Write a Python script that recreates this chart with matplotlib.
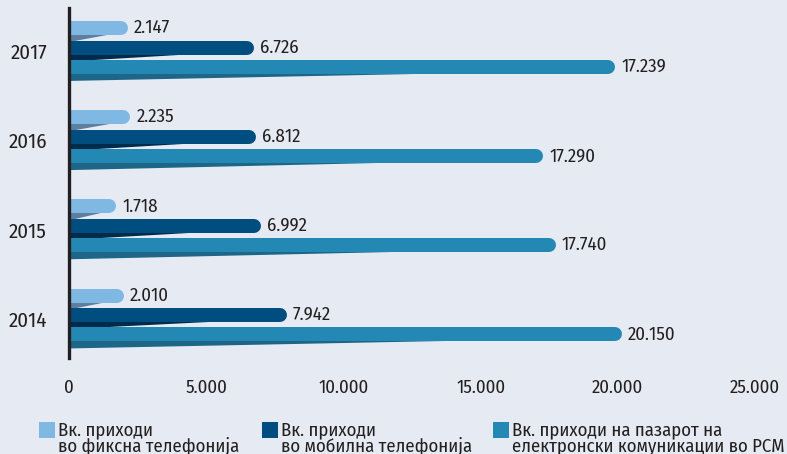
import matplotlib
matplotlib.use("Agg")
import matplotlib.pyplot as plt
from matplotlib.patches import Polygon, Rectangle
from matplotlib.transforms import ScaledTranslation

# ---- data ----
years = ["2014", "2015", "2016", "2017"]
fixed = [2010, 1718, 2235, 2147]
mobile = [7942, 6992, 6812, 6726]
market = [20150, 17740, 17290, 19900]   # bar length as drawn in the source picture
fixed_labels = ["2.010", "1.718", "2.235", "2.147"]
mobile_labels = ["7.942", "6.992", "6.812", "6.726"]
market_labels = ["20.150", "17.740", "17.290", "17.239"]
xticks = [0, 5000, 10000, 15000, 20000, 25000]
xtick_labels = ["0", "5.000", "10.000", "15.000", "20.000", "25.000"]
legend_labels = ["Вк. приходи\nво фиксна телефонија",
                 "Вк. приходи\nво мобилна телефонија",
                 "Вк. приходи на пазарот на\nелектронски комуникации во РСМ"]

# ---- style ----
FONT = ["Fira Sans Condensed", "DejaVu Sans"]
plt.rcParams["font.family"] = FONT
BG = "#E6EBF3"
TXT = "#231F20"
colors = ["#80B8E4", "#004E7F", "#2389B4"]
shadow_colors = ["#5E7E9E", "#002B4A", "#1D6688"]

DPI = 100
fig = plt.figure(figsize=(7.87, 4.54), dpi=DPI, facecolor=BG)
ax = fig.add_axes([69 / 787, 96 / 454, 713.4 / 787, 350 / 454])
ax.set_facecolor(BG)
ax.set_xlim(0, 26000)
ax.set_ylim(-0.482, 3.443)

px_x = 713.4 / 26000          # pixels per data unit (x)
px_y = 350 / (3.443 + 0.482)  # pixels per data unit (y)
bar_h_px = 14
r_data = (bar_h_px / 2) / px_x
bar_h = bar_h_px / px_y
shadow_h = 7 / px_y
offset = 0.218

series = [(fixed, fixed_labels, offset), (mobile, mobile_labels, 0.0), (market, market_labels, -offset)]
for si, (vals, labs, off) in enumerate(series):
    for i, v in enumerate(vals):
        y = i + off
        yb = y - bar_h / 2
        # shadow wedge (3D effect)
        ax.add_patch(Polygon([(0, yb + 0.01), (0, yb - shadow_h), (0.72 * v, yb + 0.01)],
                             closed=True, facecolor=shadow_colors[si], edgecolor="none", zorder=2))
        # main rounded bar
        ax.plot([0, v - r_data], [y, y], color=colors[si], lw=bar_h_px * 72 / DPI,
                solid_capstyle="round", zorder=3)
        ax.text(v + 6 / px_x, y, labs[i], ha="left", va="center", fontsize=13.5, color=TXT, zorder=4)

# axes styling
for s in ["top", "right", "bottom"]:
    ax.spines[s].set_visible(False)
ax.spines["left"].set_color(TXT)
ax.spines["left"].set_linewidth(2.4)
ax.spines["left"].set_zorder(5)
ax.set_xticks(xticks)
ax.set_xticklabels(xtick_labels, fontsize=13.5, color=TXT)
ax.set_yticks(range(len(years)))
ax.set_yticklabels(years, fontsize=15, color=TXT)
ax.tick_params(axis="both", length=0)
ax.tick_params(axis="x", pad=15)
ax.tick_params(axis="y", pad=16)
for lab in ax.get_yticklabels():
    lab.set_transform(lab.get_transform() + ScaledTranslation(0, -4 / DPI, fig.dpi_scale_trans))

# legend (manual)
sq_x = [39, 262, 493]
for k in range(3):
    fig.patches.append(Rectangle((sq_x[k] / 787, (454 - 438) / 454), 16 / 787, 16 / 454,
                                 transform=fig.transFigure, facecolor=colors[k], edgecolor="none"))
    fig.text((sq_x[k] + 19) / 787, (454 - 421) / 454, legend_labels[k], ha="left", va="top",
             fontsize=13.5, color=TXT, linespacing=0.85)

fig.savefig("out.png", dpi=DPI, facecolor=BG)
